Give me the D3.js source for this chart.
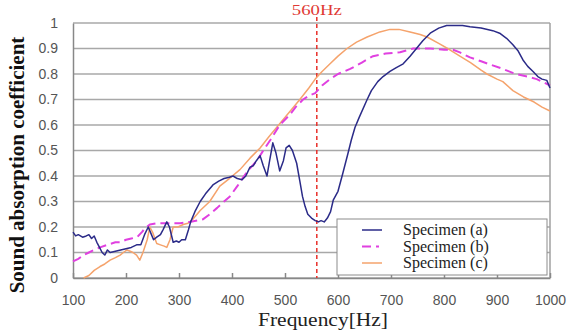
<!DOCTYPE html>
<html>
<head>
<meta charset="utf-8">
<script src="https://cdn.jsdelivr.net/npm/d3@7"></script>
<style>
  body { margin: 0; background: #ffffff; }
  .tick text { font-family: "Liberation Sans", Arial, sans-serif; font-size: 14px; fill: #555555; }
</style>
</head>
<body>
<div id="chartHolder"></div>
<script>
// tick values
var xTicks = [100, 200, 300, 400, 500, 600, 700, 800, 900, 1000];
var yTicks = [0, 0.1, 0.2, 0.3, 0.4, 0.5, 0.6, 0.7, 0.8, 0.9, 1];
var markerFreq = 560;

// Specimen (a)
var freqA = [100,105,110,118,125,130,135,140,145,150,155,160,165,170,180,190,200,210,220,228,235,242,248,252,258,265,270,277,282,289,295,300,305,312,318,322,330,340,350,364,375,385,395,402,410,419,426,434,440,446,453,459,466,471,477,483,490,497,502,508,514,522,528,533,538,543,550,557,563,568,574,580,586,591,600,609,619,625,632,640,655,663,675,685,698,710,723,736,748,760,774,790,805,817,835,849,870,892,905,918,930,940,949,958,968,977,985,994,1000];
var valA = [0.18,0.165,0.17,0.16,0.165,0.17,0.155,0.165,0.14,0.12,0.10,0.09,0.11,0.10,0.105,0.11,0.115,0.12,0.13,0.13,0.17,0.20,0.17,0.15,0.16,0.17,0.19,0.22,0.20,0.14,0.145,0.14,0.15,0.15,0.19,0.22,0.26,0.30,0.33,0.365,0.38,0.39,0.395,0.40,0.39,0.385,0.40,0.435,0.44,0.46,0.48,0.44,0.40,0.46,0.53,0.49,0.42,0.46,0.51,0.52,0.50,0.45,0.38,0.32,0.28,0.25,0.235,0.225,0.22,0.225,0.22,0.235,0.26,0.305,0.34,0.41,0.49,0.54,0.59,0.63,0.70,0.735,0.77,0.79,0.81,0.825,0.84,0.87,0.90,0.93,0.96,0.98,0.99,0.99,0.99,0.985,0.98,0.97,0.96,0.94,0.915,0.89,0.855,0.83,0.81,0.79,0.78,0.775,0.745];

// Specimen (b)
var freqB = [100,110,120,130,140,151,165,180,189,200,210,221,230,236,245,260,280,302,320,345,358,372,385,396,410,421,434,447,459,472,490,509,520,534,545,557,570,585,600,623,645,666,690,717,742,774,800,817,830,849,870,890,911,935,957,975,990,1000];
var valB = [0.065,0.075,0.09,0.10,0.11,0.12,0.13,0.14,0.14,0.15,0.155,0.16,0.18,0.195,0.21,0.215,0.215,0.215,0.22,0.23,0.25,0.275,0.30,0.32,0.36,0.395,0.43,0.46,0.50,0.54,0.60,0.64,0.67,0.70,0.715,0.725,0.755,0.78,0.80,0.82,0.845,0.87,0.88,0.885,0.90,0.90,0.895,0.895,0.885,0.865,0.85,0.835,0.82,0.80,0.79,0.78,0.765,0.755];

// Specimen (c)
var freqC = [120,130,140,151,160,170,180,189,195,202,208,213,220,226,232,240,245,250,258,265,272,277,283,289,298,308,317,326,340,358,377,395,415,434,453,470,490,510,528,545,557,570,585,600,617,635,655,679,698,715,736,755,768,790,811,830,850,870,881,900,911,930,950,970,985,1000];
var valC = [0.0,0.01,0.03,0.045,0.055,0.07,0.08,0.09,0.10,0.11,0.105,0.10,0.09,0.07,0.10,0.15,0.20,0.18,0.135,0.13,0.125,0.12,0.15,0.20,0.20,0.21,0.215,0.23,0.265,0.30,0.36,0.39,0.425,0.47,0.51,0.555,0.605,0.655,0.70,0.745,0.78,0.81,0.84,0.87,0.90,0.925,0.945,0.965,0.975,0.975,0.965,0.955,0.945,0.92,0.895,0.87,0.845,0.815,0.80,0.78,0.77,0.735,0.71,0.69,0.67,0.655];

var seriesNames = ["Specimen (a)", "Specimen (b)", "Specimen (c)"];
var seriesColors = ["#2b2b88", "#e040e0", "#f5a36c"];
var seriesDash = [null, "9,5", null];
var seriesWidth = [1.5, 2, 1.5];

var margin = {top: 23, right: 17, bottom: 56, left: 73};
var width = 567 - margin.left - margin.right;
var height = 334 - margin.top - margin.bottom;

var svg = d3.select("#chartHolder")
    .append("svg")
    .attr("width", 567)
    .attr("height", 334);

var xScale = d3.scaleLinear()
    .domain([100, 1000])
    .range([margin.left, margin.left + width]);

var yScale = d3.scaleLinear()
    .domain([0, 1])
    .range([margin.top + height, margin.top]);

// gridlines
svg.append("g")
    .selectAll("line")
    .data(yTicks)
    .enter()
    .append("line")
    .attr("x1", xScale(100))
    .attr("x2", xScale(1000))
    .attr("y1", function(d){ return yScale(d); })
    .attr("y2", function(d){ return yScale(d); })
    .style("stroke", "#a8a8a8")
    .style("stroke-width", 1.5);

// right border
svg.append("line")
    .attr("x1", xScale(1000)).attr("x2", xScale(1000))
    .attr("y1", yScale(0)).attr("y2", yScale(1))
    .style("stroke", "#a0a0a0")
    .style("stroke-width", 1.5);

// y axis
var yAxis = svg.append("g")
    .attr("transform", "translate(" + margin.left + ",0)")
    .call(d3.axisLeft(yScale).tickValues(yTicks).tickSize(0).tickPadding(15)
        .tickFormat(function(d){ return d3.format("")(d); }));
yAxis.select(".domain").style("stroke", "#888888").style("stroke-width", 1.5);

// x axis, ticks pointing up
var xAxis = svg.append("g")
    .attr("transform", "translate(0," + (margin.top + height) + ")")
    .call(d3.axisBottom(xScale).tickValues(xTicks).tickSizeInner(-5).tickSizeOuter(0).tickPadding(17)
        .tickFormat(d3.format("d")));
xAxis.select(".domain").style("stroke", "#888888").style("stroke-width", 1.5);
xAxis.selectAll(".tick line").style("stroke", "#888888").style("stroke-width", 1.5);

// 560Hz marker
svg.append("line")
    .attr("x1", xScale(markerFreq)).attr("x2", xScale(markerFreq))
    .attr("y1", 17).attr("y2", yScale(0))
    .style("stroke", "#e8302a")
    .style("stroke-width", 1.5)
    .style("stroke-dasharray", "4,3");

svg.append("text")
    .attr("x", xScale(markerFreq))
    .attr("y", 15)
    .attr("text-anchor", "middle")
    .attr("textLength", 50)
    .attr("lengthAdjust", "spacingAndGlyphs")
    .style("font-family", "'Liberation Serif', 'Times New Roman', serif")
    .style("font-size", "15px")
    .style("fill", "#e03a35")
    .text(markerFreq + "Hz");

// lines
var lineGen = d3.line()
    .x(function(d){ return xScale(d[0]); })
    .y(function(d){ return yScale(d[1]); });

var allSeries = [
    d3.zip(freqA, valA),
    d3.zip(freqB, valB),
    d3.zip(freqC, valC)
];

// draw c, b then a on top
[2, 1, 0].forEach(function(i){
    svg.append("path")
        .datum(allSeries[i])
        .attr("d", lineGen)
        .style("fill", "none")
        .style("stroke", seriesColors[i])
        .style("stroke-width", seriesWidth[i])
        .style("stroke-dasharray", seriesDash[i])
        .style("stroke-linejoin", "round");
});

// legend
var legend = svg.append("g");
legend.append("rect")
    .attr("x", 337).attr("y", 219)
    .attr("width", 210).attr("height", 56)
    .style("fill", "#ffffff")
    .style("stroke", "#8c8c8c")
    .style("stroke-width", 1);

seriesNames.forEach(function(name, i){
    var ly = 230 + i * 16.5;
    legend.append("line")
        .attr("x1", 362).attr("x2", 382)
        .attr("y1", ly).attr("y2", ly)
        .style("stroke", seriesColors[i])
        .style("stroke-width", seriesWidth[i])
        .style("stroke-dasharray", i == 1 ? "9,5,3,5" : null);
    legend.append("text")
        .attr("x", 403)
        .attr("y", ly + 5)
        .style("font-family", "'Liberation Serif', 'Times New Roman', serif")
        .style("font-size", "16px")
        .style("fill", "#222222")
        .text(name);
});

// axis titles
svg.append("text")
    .attr("x", 323)
    .attr("y", 326)
    .attr("text-anchor", "middle")
    .attr("textLength", 130)
    .attr("lengthAdjust", "spacingAndGlyphs")
    .style("font-family", "'Liberation Serif', 'Times New Roman', serif")
    .style("font-size", "19px")
    .style("fill", "#222222")
    .text("Frequency[Hz]");

svg.append("text")
    .attr("transform", "translate(24,165) rotate(-90)")
    .attr("text-anchor", "middle")
    .style("font-family", "'Liberation Serif', 'Times New Roman', serif")
    .style("font-weight", "bold")
    .style("font-size", "21px")
    .style("fill", "#111111")
    .text("Sound absorption coefficient");
</script>
</body>
</html>
